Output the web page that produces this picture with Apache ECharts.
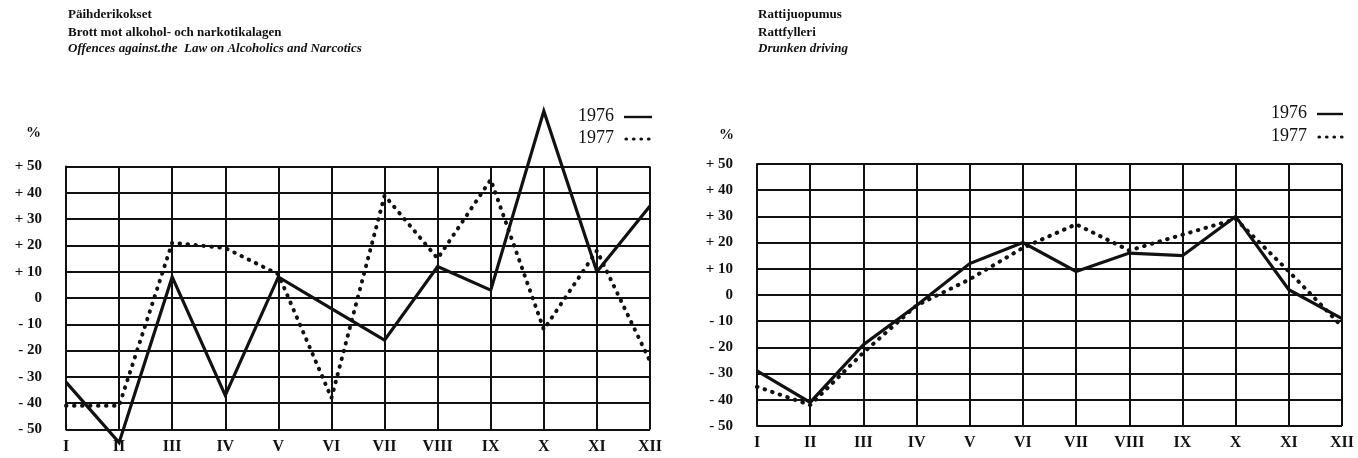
<!DOCTYPE html>
<html>
<head>
<meta charset="utf-8">
<script src="https://cdn.jsdelivr.net/npm/echarts@6/dist/echarts.min.js"></script>
<style>
html,body{margin:0;padding:0;background:#fff;}
#chart{width:1358px;height:458px;}
</style>
</head>
<body>
<div id="chart"></div>
<script>
// ---- Data ----
const months = ['I','II','III','IV','V','VI','VII','VIII','IX','X','XI','XII'];
const yTicks = [-50,-40,-30,-20,-10,0,10,20,30,40,50];

// Offences against the Law on Alcoholics and Narcotics (% change)
const narc1976 = [-32, -55, 8, -37, 8, -4, -16, 12, 3, 71.1, 10, 35];
const narc1977 = [-41, -41, 21, 19, 9, -38, 39, 15, 45, -12, 18, -24];

// Drunken driving (% change)
const drunk1976 = [-29, -41, -19, -4, 12, 20, 9, 16, 15, 30, 2, -9];
const drunk1977 = [-35, -42, -22, -4, 6, 18, 27, 17, 23, 29, 9, -12];

const titlesLeft = ['Päihderikokset', 'Brott mot alkohol- och narkotikalagen', 'Offences against.the  Law on Alcoholics and Narcotics'];
const titlesRight = ['Rattijuopumus', 'Rattfylleri', 'Drunken driving'];
const years = ['1976', '1977'];
const peakLabel = '71.1 %';

// ---- Styles ----
const FONT = "'Liberation Serif','DejaVu Serif',serif";
const INK = '#111';

function yFmt(v){
  if (v > 0) return '+ ' + v;
  if (v < 0) return '- ' + Math.abs(v);
  return '0';
}

function xAxis(gi){
  return {
    type:'category', gridIndex:gi, data:months, boundaryGap:false,
    axisTick:{show:false},
    axisLine:{show:true, lineStyle:{color:INK, width:2}},
    splitLine:{show:true, interval:0, lineStyle:{color:INK, width:2}},
    axisLabel:{show:true, interval:0, fontFamily:FONT, fontSize:16, fontWeight:'bold', color:INK, margin:9}
  };
}
function yAxis(gi){
  return {
    type:'value', gridIndex:gi, min:yTicks[0], max:yTicks[yTicks.length-1], interval:10,
    axisTick:{show:false},
    axisLine:{show:true, lineStyle:{color:INK, width:2}},
    splitLine:{show:true, lineStyle:{color:INK, width:2}},
    axisLabel:{formatter:yFmt, fontFamily:FONT, fontSize:15, fontWeight:'bold', color:INK, margin:24}
  };
}

const solid = {color:INK, width:3.2, type:'solid', join:'miter'};
const dotted = {color:INK, width:4, type:[0.5, 7.5], cap:'round'};

function titleGraphics(x, lines){
  return lines.map((t, i) => ({
    type:'text', left:x, top:[8, 26, 42][i],
    style:{text:t, fontFamily:FONT, fontSize:13, fontWeight:'bold', fontStyle: i===2 ? 'italic' : 'normal', fill:INK}
  }));
}
function legendGraphics(tx, lx1, lx2, y1, y2){
  return [
    {type:'text', left:tx, top:y1-10, style:{text:years[0], fontFamily:FONT, fontSize:18, fill:INK}},
    {type:'text', left:tx, top:y2-10, style:{text:years[1], fontFamily:FONT, fontSize:18, fill:INK}},
    {type:'line', shape:{x1:lx1, y1:y1, x2:lx2, y2:y1}, style:{stroke:INK, lineWidth:2.4}},
    {type:'line', shape:{x1:lx1+2, y1:y2, x2:lx2, y2:y2}, style:{stroke:INK, lineWidth:3.2, lineDash:[0.5, 7], lineCap:'round'}}
  ];
}

const narc1976Data = narc1976.map((v, i) => i === 9
  ? {value:v, label:{show:true, formatter:peakLabel, position:'top', distance:24, offset:[25,0], fontFamily:FONT, fontSize:18, color:INK}}
  : v);

const chart = echarts.init(document.getElementById('chart'), null, {renderer:'canvas'});
chart.setOption({
  animation:false,
  backgroundColor:'#fff',
  grid:[
    {left:66, top:166.5, width:584, height:263},
    {left:757, top:164, width:585, height:262}
  ],
  xAxis:[xAxis(0), xAxis(1)],
  yAxis:[yAxis(0), yAxis(1)],
  series:[
    {name:'1976', type:'line', xAxisIndex:0, yAxisIndex:0, data:narc1976Data, symbol:'none', clip:false, lineStyle:solid, z:3},
    {name:'1977', type:'line', xAxisIndex:0, yAxisIndex:0, data:narc1977, symbol:'none', clip:false, lineStyle:dotted, z:4},
    {name:'1976', type:'line', xAxisIndex:1, yAxisIndex:1, data:drunk1976, symbol:'none', clip:false, lineStyle:solid, z:3},
    {name:'1977', type:'line', xAxisIndex:1, yAxisIndex:1, data:drunk1977, symbol:'none', clip:false, lineStyle:dotted, z:4}
  ],
  graphic:[].concat(
    titleGraphics(68, titlesLeft),
    titleGraphics(758, titlesRight),
    [
      {type:'text', left:26, top:126, style:{text:'%', fontFamily:FONT, fontSize:15, fontWeight:'bold', fill:INK}},
      {type:'text', left:719, top:128, style:{text:'%', fontFamily:FONT, fontSize:15, fontWeight:'bold', fill:INK}}
    ],
    legendGraphics(578, 624, 652, 117, 139),
    legendGraphics(1271, 1317, 1343, 114, 137)
  )
});
</script>
</body>
</html>
